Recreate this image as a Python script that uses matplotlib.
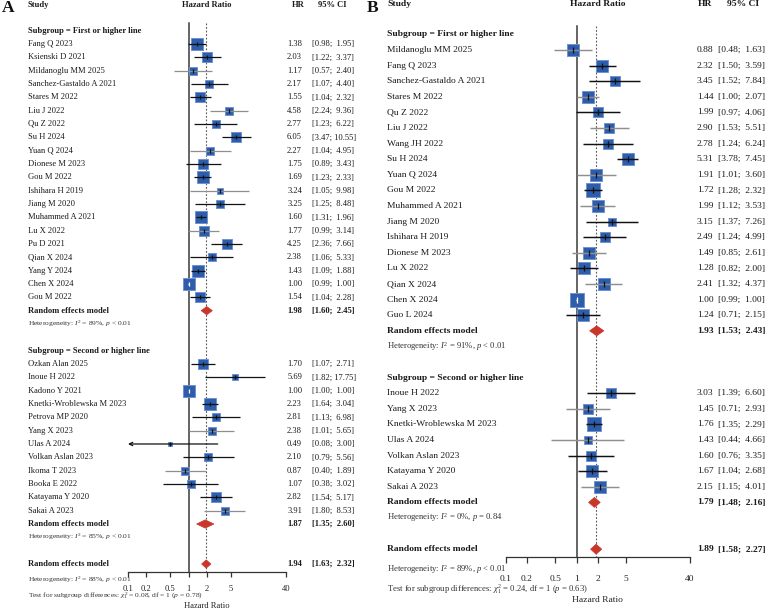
import matplotlib
matplotlib.use('Agg')
import matplotlib.pyplot as plt
import numpy as np
from matplotlib.transforms import blended_transform_factory
from matplotlib.patches import Polygon
from matplotlib.ticker import NullLocator

plt.rcParams['font.family'] = ['Liberation Serif', 'DejaVu Serif']
plt.rcParams['mathtext.fontset'] = 'custom'
plt.rcParams['mathtext.rm'] = 'Liberation Serif'
plt.rcParams['mathtext.it'] = 'Liberation Serif:italic'
plt.rcParams['mathtext.bf'] = 'Liberation Serif:bold'

# ---------------- Data: panel A ----------------
A1_studies = ["Fang Q 2023", "Ksienski D 2021", "Mildanoglu MM 2025", "Sanchez-Gastaldo A 2021",
              "Stares M 2022", "Liu J 2022", "Qu Z 2022", "Su H 2024", "Yuan Q 2024",
              "Dionese M 2023", "Gou M 2022", "Ishihara H 2019", "Jiang M 2020",
              "Muhammed A 2021", "Lu X 2022", "Pu D 2021", "Qian X 2024", "Yang Y 2024",
              "Chen X 2024", "Gou M 2022"]
A1_hr = [1.38, 2.03, 1.17, 2.17, 1.55, 4.58, 2.77, 6.05, 2.27, 1.75, 1.69, 3.24, 3.25,
         1.60, 1.77, 4.25, 2.38, 1.43, 1.00, 1.54]
A1_lo = [0.98, 1.22, 0.57, 1.07, 1.04, 2.24, 1.23, 3.47, 1.04, 0.89, 1.23, 1.05, 1.25,
         1.31, 0.99, 2.36, 1.06, 1.09, 0.99, 1.04]
A1_hi = [1.95, 3.37, 2.40, 4.40, 2.32, 9.36, 6.22, 10.55, 4.95, 3.43, 2.33, 9.98, 8.48,
         1.96, 3.14, 7.66, 5.33, 1.88, 1.00, 2.28]
A1_weight = [11.1, 7.9, 5.9, 5.9, 9.7, 6.3, 5.4, 7.9, 6.3, 7.4, 10.5, 4.1, 4.9,
             11.7, 9.2, 7.4, 4.9, 10.5, 10.5, 9.2]
A1_pooled = (1.98, 1.60, 2.45)
A1_het = r"Heterogeneity: $I^2$ = 89%, $p$ < 0.01"

A2_studies = ["Ozkan Alan 2025", "Inoue H 2022", "Kadono Y 2021", "Knetki-Wroblewska M 2023",
              "Petrova MP 2020", "Yang X 2023", "Ulas A 2024", "Volkan Aslan 2023",
              "Ikoma T 2023", "Booka E 2022", "Katayama Y 2020", "Sakai A 2023"]
A2_hr = [1.70, 5.69, 1.00, 2.23, 2.81, 2.38, 0.49, 2.10, 0.87, 1.07, 2.82, 3.91]
A2_lo = [1.07, 1.82, 1.00, 1.64, 1.13, 1.01, 0.08, 0.79, 0.40, 0.38, 1.54, 1.80]
A2_hi = [2.71, 17.75, 1.00, 3.04, 6.98, 5.65, 3.00, 5.56, 1.89, 3.02, 5.17, 8.53]
A2_weight = [9.2, 4.1, 11.7, 10.5, 5.9, 5.4, 1.7, 4.9, 5.9, 4.9, 9.2, 6.3]
A2_pooled = (1.87, 1.35, 2.60)
A2_het = r"Heterogeneity: $I^2$ = 85%, $p$ < 0.01"

A_overall = (1.94, 1.63, 2.32)
A_overall_het = r"Heterogeneity: $I^2$ = 88%, $p$ < 0.01"
A_test = r"Test for subgroup differences: $\chi^2_1$ = 0.08, df = 1 ($p$ = 0.78)"

# ---------------- Data: panel B ----------------
B1_studies = ["Mildanoglu MM 2025", "Fang Q 2023", "Sanchez-Gastaldo A 2021", "Stares M 2022",
              "Qu Z 2022", "Liu J 2022", "Wang JH 2022", "Su H 2024", "Yuan Q 2024",
              "Gou M 2022", "Muhammed A 2021", "Jiang M 2020", "Ishihara H 2019",
              "Dionese M 2023", "Lu X 2022", "Qian X 2024", "Chen X 2024", "Guo L 2024"]
B1_hr = [0.88, 2.32, 3.45, 1.44, 1.99, 2.90, 2.78, 5.31, 1.91, 1.72, 1.99, 3.15, 2.49,
         1.49, 1.28, 2.41, 1.00, 1.24]
B1_lo = [0.48, 1.50, 1.52, 1.00, 0.97, 1.53, 1.24, 3.78, 1.01, 1.28, 1.12, 1.37, 1.24,
         0.85, 0.82, 1.32, 0.99, 0.71]
B1_hi = [1.63, 3.59, 7.84, 2.07, 4.06, 5.51, 6.24, 7.45, 3.60, 2.32, 3.53, 7.26, 4.99,
         2.61, 2.00, 4.37, 1.00, 2.15]
B1_weight = [8.1, 9.2, 5.4, 9.2, 6.7, 6.7, 6.3, 10.2, 7.7, 11.9, 9.2, 5.1, 6.7,
             7.7, 9.2, 8.1, 10.8, 8.6]
B1_pooled = (1.93, 1.53, 2.43)
B1_het = r"Heterogeneity: $I^2$ = 91%, $p$ < 0.01"

B2_studies = ["Inoue H 2022", "Yang X 2023", "Knetki-Wroblewska M 2023", "Ulas A 2024",
              "Volkan Aslan 2023", "Katayama Y 2020", "Sakai A 2023"]
B2_hr = [3.03, 1.45, 1.76, 1.43, 1.60, 1.67, 2.15]
B2_lo = [1.39, 0.71, 1.35, 0.44, 0.76, 1.04, 1.15]
B2_hi = [6.60, 2.93, 2.29, 4.66, 3.35, 2.68, 4.01]
B2_weight = [5.8, 7.1, 11.9, 3.3, 7.1, 10.2, 7.7]
B2_pooled = (1.79, 1.48, 2.16)
B2_het = r"Heterogeneity: $I^2$ = 0%, $p$ = 0.84"

B_overall = (1.89, 1.58, 2.27)
B_overall_het = r"Heterogeneity: $I^2$ = 89%, $p$ < 0.01"
B_test = r"Test for subgroup differences: $\chi^2_1$ = 0.24, df = 1 ($p$ = 0.63)"

tick_vals = [0.1, 0.2, 0.5, 1, 2, 5, 40]
tick_labels = ["0.1", "0.2", "0.5", "1", "2", "5", "40"]
subgroup_titles = ["Subgroup = First or higher line", "Subgroup = Second or higher line"]

# CI line styles (k = black, g = grey, w = inside square)
A1_style = list("kkgkkgkkgkkgkkgkkkwk")
A2_style = list("kkwkkgkkgkkg")
B1_style = list("gkkgkgkkgkgkkgkgwk")
B2_style = list("kgkgkkg")
style_col = {'k': '#111111', 'g': '#8f8f8f', 'w': 'white'}

W, H = 765, 611
fig = plt.figure(figsize=(W / 100, H / 100), dpi=100)

SQ_FACE = '#2d5dab'
SQ_EDGE = '#6f93cf'
DIA = '#c9372c'


def ci_text(lo, hi):
    sep = " " if hi >= 10 else "  "
    return f"[{lo:.2f};{sep}{hi:.2f}]"


def draw_panel(cfg, g1, g2, overall, overall_het, test):
    s = cfg['scale']
    y1, sp = cfg['y1'], cfg['sp']
    x0, x1 = cfg['xl'], cfg['xr']

    def row_of(px):
        return 1 + (px - y1) / sp

    ax = fig.add_axes([x0 / W, 0, (x1 - x0) / W, 1])
    ax.set_xscale('log')
    ax.set_xlim(0.1, 40)
    ax.set_ylim(row_of(H), row_of(0))
    ax.patch.set_alpha(0)
    for sname in ['left', 'right', 'top']:
        ax.spines[sname].set_visible(False)
    axis_row = row_of(cfg['axis_px'])
    ax.spines['bottom'].set_position(('data', axis_row))
    ax.spines['bottom'].set_color('#333333')
    ax.spines['bottom'].set_linewidth(0.9)
    ax.set_yticks([])
    ax.xaxis.set_minor_locator(NullLocator())
    ax.set_xticks(tick_vals)
    ax.set_xticklabels(tick_labels)
    ax.tick_params(axis='x', direction='out', length=cfg['ticklen'], width=0.9,
                   color='#333333', labelsize=cfg['fs'], pad=cfg['tickpad'],
                   labelcolor='#222222')

    tr = blended_transform_factory(fig.transFigure, ax.transData)
    fs, fsh = cfg['fs'], cfg['fsh']

    def txt(px, row, t, ha='left', bold=False, size=None, color='#1a1a1a'):
        ax.text(px / W, row, t, transform=tr, ha=ha, va='center',
                fontsize=size or fs, fontweight='bold' if bold else 'normal',
                color=color, clip_on=False)

    # headers
    hr_row = -1.95
    txt(cfg['study_x'], hr_row, "Study", bold=True)
    ax.text(np.sqrt(0.1 * 40), hr_row, "Hazard Ratio", ha='center', va='center',
            fontsize=fs, fontweight='bold', color='#1a1a1a', clip_on=False)
    txt(cfg['hr_hdr'], hr_row, "HR", ha='center', bold=True)
    txt(cfg['ci_hdr'], hr_row, "95% CI", ha='center', bold=True)
    fig.text(cfg['letter_x'] / W, 1 - 8 / H, cfg['letter'], fontsize=12.5, fontweight='bold',
             ha='left', va='center', color='#111111')

    def vals(row, hr, lo, hi, bold=False):
        txt(cfg['hr_r'], row, f"{hr:.2f}", ha='right', bold=bold)
        txt(cfg['ci_l'], row, ci_text(lo, hi), ha='left', bold=bold)

    def diamond(row, est, lo, hi):
        h = cfg['dia_h']
        poly = Polygon([(lo, row), (est, row - h), (hi, row), (est, row + h)],
                       closed=True, facecolor=DIA, edgecolor=DIA, lw=0.5, zorder=4)
        ax.add_patch(poly)

    def study(row, name, hr, lo, hi, w, st):
        txt(cfg['study_x'], row, name)
        vals(row, hr, lo, hi)
        side_px = cfg['sq_k'] * np.sqrt(w) * s
        ax.plot([hr], [row], marker='s', ms=side_px * 0.72, mfc=SQ_FACE, mec=SQ_EDGE,
                mew=0.7, zorder=3, ls='none')
        col = style_col[st]
        lw = 0.9 * s
        if lo < 0.1:
            ax.annotate('', xy=(0.1, row), xytext=(hi, row), zorder=4,
                        arrowprops=dict(arrowstyle='->', color=col, lw=lw,
                                        shrinkA=0, shrinkB=0, mutation_scale=6 * s))
        else:
            ax.plot([lo, min(hi, 40)], [row, row], color=col, lw=lw, zorder=4,
                    solid_capstyle='butt')
        ax.plot([hr], [row], marker='|', ms=3.2 * s, mew=0.9,
                color='white' if st == 'w' else '#111111', zorder=5, ls='none')

    row = 0
    for g, title in zip([g1, g2], subgroup_titles):
        names, hr, lo, hi, wts, sty, pooled, het = g
        txt(cfg['study_x'], row, title, bold=True)
        for i in range(len(names)):
            row += 1
            study(row, names[i], hr[i], lo[i], hi[i], wts[i], sty[i])
        row += 1
        txt(cfg['study_x'], row, "Random effects model", bold=True)
        vals(row, *pooled, bold=True)
        diamond(row, *pooled)
        row += 1
        txt(cfg['study_x'], row, het, size=fsh, color='#333333')
        row += 2
    txt(cfg['study_x'], row, "Random effects model", bold=True)
    vals(row, *overall, bold=True)
    diamond(row, *overall)

    top = -0.55
    ax.plot([1, 1], [top, axis_row], color='#3a3a3a', lw=1.1, zorder=2)
    ax.plot([overall[0]] * 2, [top, axis_row], color='#5a5a5a', lw=0.8,
            ls=(0, (1.6, 1.6)), zorder=1)

    txt(cfg['study_x'], row_of(cfg['het_px']), overall_het, size=fsh, color='#333333')
    txt(cfg['study_x'], row_of(cfg['test_px']), test, size=fsh, color='#333333')
    ax.text(np.sqrt(0.1 * 40), row_of(cfg['xlab_px']), "Hazard Ratio", ha='center',
            va='center', fontsize=fs, color='#222222', clip_on=False)


cfgA = dict(scale=1.0, y1=44.0, sp=13.333, xl=128.0, xr=286.0, axis_px=571.7,
            ticklen=3.6, tickpad=6.3, fs=6.1, fsh=5.4, study_x=27.7, hr_r=302.0,
            ci_l=312.0, hr_hdr=298.0, ci_hdr=332.5, letter='A', letter_x=2.0,
            dia_h=0.31, sq_k=3.4, het_px=580.0, test_px=595.7, xlab_px=606.5)
cfgB = dict(scale=1.17, y1=50.0, sp=15.6, xl=505.7, xr=690.0, axis_px=557.0,
            ticklen=4.3, tickpad=8.8, fs=6.8, fsh=6.2, study_x=387.3, hr_r=713.5,
            ci_l=718.0, hr_hdr=704.7, ci_hdr=743.3, letter='B', letter_x=366.5,
            dia_h=0.32, sq_k=3.4, het_px=569.3, test_px=589.3, xlab_px=600.0)

draw_panel(cfgA,
           (A1_studies, A1_hr, A1_lo, A1_hi, A1_weight, A1_style, A1_pooled, A1_het),
           (A2_studies, A2_hr, A2_lo, A2_hi, A2_weight, A2_style, A2_pooled, A2_het),
           A_overall, A_overall_het, A_test)
draw_panel(cfgB,
           (B1_studies, B1_hr, B1_lo, B1_hi, B1_weight, B1_style, B1_pooled, B1_het),
           (B2_studies, B2_hr, B2_lo, B2_hi, B2_weight, B2_style, B2_pooled, B2_het),
           B_overall, B_overall_het, B_test)

fig.savefig('out.png', dpi=100, facecolor='white')
